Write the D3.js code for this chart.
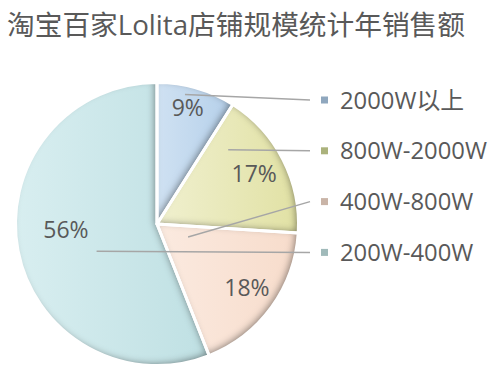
<!DOCTYPE html>
<html><head><meta charset="utf-8">
<script src="https://cdn.jsdelivr.net/npm/d3@7"></script>
<style>
html,body{margin:0;padding:0;background:#fff;}
svg{display:block;}
text{font-family:"Open Sans","Noto Sans CJK SC",sans-serif;fill:#595959;}
</style></head>
<body>
<svg id="chart" width="500" height="376"></svg>
<script>
const title = "淘宝百家Lolita店铺规模统计年销售额";
const categories = ["2000W以上", "800W-2000W", "400W-800W", "200W-400W"];
const values = [9, 17, 18, 56];
const valueLabels = ["9%", "17%", "18%", "56%"];

// styling / layout
const sliceColors = [["#cfe1f2","#b5d0ea"],["#f0f0cf","#e1e1a4"],["#fbeae0","#f7dccb"],["#d8eef0","#bfe0e3"]];
const markerColors = ["#8fa7be","#abb27c","#c9b4a7","#a0baba"];
const labelPolar = [[14.8,0.85],[62.4,0.775],[125.4,0.78],[266.5,0.645]];
const leaderPolar = [[12.2,0.936],[43.8,0.727],[112.7,0.238],[245.8,0.468]];
const cx = 157, cy = 224, R = 141.5;
const legendX = 321, legendY0 = 100, legendStep = 50.8;

const svg = d3.select("#chart");
const defs = svg.append("defs");

const f = defs.append("filter").attr("id","inner").attr("x","-10%").attr("y","-10%").attr("width","120%").attr("height","120%");
f.append("feComponentTransfer").attr("in","SourceAlpha").attr("result","inv")
  .append("feFuncA").attr("type","table").attr("tableValues","1 0");
f.append("feGaussianBlur").attr("in","inv").attr("stdDeviation","3.5").attr("result","blur");
f.append("feOffset").attr("in","blur").attr("dx","-3.5").attr("dy","-2.5").attr("result","off");
f.append("feFlood").attr("flood-color","#303030").attr("flood-opacity","0.75").attr("result","col");
f.append("feComposite").attr("in","col").attr("in2","off").attr("operator","in").attr("result","sh");
f.append("feComposite").attr("in","sh").attr("in2","SourceAlpha").attr("operator","in").attr("result","shin");
const fm = f.append("feMerge");
fm.append("feMergeNode").attr("in","SourceGraphic");
fm.append("feMergeNode").attr("in","shin");

sliceColors.forEach((c,i)=>{
  const g = defs.append("linearGradient").attr("id","g"+i).attr("x1","0").attr("y1","0").attr("x2","1").attr("y2","0");
  g.append("stop").attr("offset","0").attr("stop-color",c[0]);
  g.append("stop").attr("offset","1").attr("stop-color",c[1]);
});

svg.append("text").attr("x",7).attr("y",35).attr("font-size",27.7).text(title);

const pie = d3.pie().sort(null).value(d=>d)(values);
const arc = d3.arc().innerRadius(0).outerRadius(R);
const gPie = svg.append("g").attr("transform",`translate(${cx},${cy})`);

gPie.selectAll("path.s").data(pie).join("path").attr("class","s")
  .attr("d",arc).attr("fill",(d,i)=>`url(#g${i})`).attr("filter","url(#inner)");
gPie.selectAll("path.b").data(pie).join("path").attr("class","b")
  .attr("d",arc).attr("fill","none").attr("stroke","#fff").attr("stroke-width",3).attr("stroke-linejoin","round");

const polar = (p)=>{const a=p[0]*Math.PI/180, r=p[1]*R; return [Math.sin(a)*r, -Math.cos(a)*r];};

// leader lines
gPie.selectAll("line.l").data(pie).join("line").attr("class","l")
  .attr("x1",(d,i)=>polar(leaderPolar[i])[0]).attr("y1",(d,i)=>polar(leaderPolar[i])[1])
  .attr("x2",legendX-11-cx).attr("y2",(d,i)=>legendY0+i*legendStep-cy)
  .attr("stroke","#a6a6a6").attr("stroke-width",1.5);

gPie.selectAll("text.v").data(pie).join("text").attr("class","v")
  .attr("x",(d,i)=>polar(labelPolar[i])[0]).attr("y",(d,i)=>polar(labelPolar[i])[1]+8.5)
  .attr("text-anchor","middle").attr("font-size",23).text((d,i)=>valueLabels[i]);

const lg = svg.append("g");
categories.forEach((c,i)=>{
  const y = legendY0 + i*legendStep;
  lg.append("rect").attr("x",legendX).attr("y",y-3.5).attr("width",7).attr("height",7).attr("fill",markerColors[i]);
  lg.append("text").attr("x",legendX+19).attr("y",y+8.5).attr("font-size",23.8).text(c);
});
</script>
</body></html>
